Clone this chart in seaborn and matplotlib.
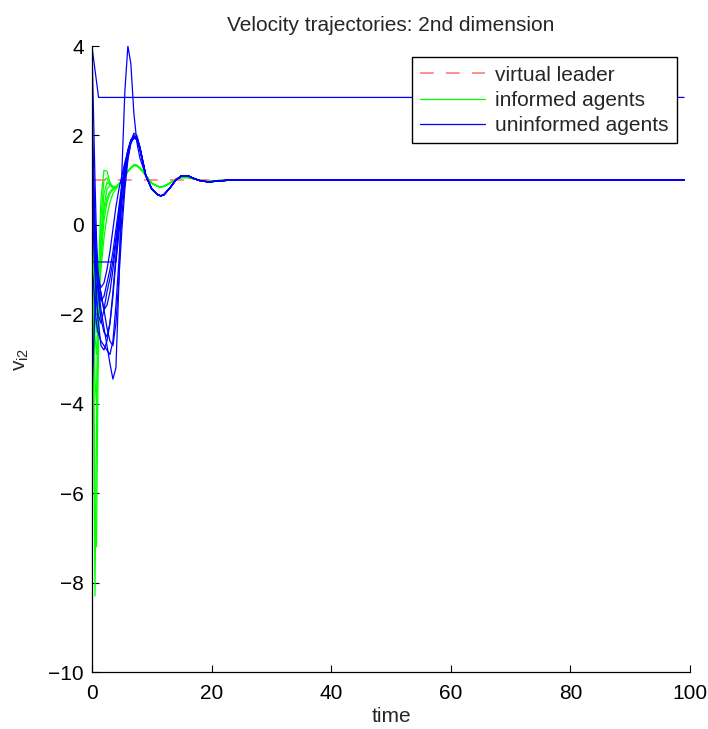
import numpy as np
import pandas as pd
import matplotlib
matplotlib.use("Agg")
import matplotlib.pyplot as plt
from matplotlib.lines import Line2D
import seaborn as sns

# ---- sampled trajectories -------------------------------------------------
# early transient (t = 0 ... 8.5), one list per agent
head_t = [0, 0.25, 0.5, 0.75, 1, 1.5, 2, 2.5, 3, 3.5,
          4, 4.5, 5, 5.5, 6, 6.5, 7, 7.5, 8, 8.5]

# common settled part (t = 9 ... 99)
tail_t = [9, 10, 11, 11.5, 12, 13, 14, 15, 16, 17, 18, 19.5, 21, 23, 25, 99]
blue_tail = [1.1, 0.8, 0.67, 0.65, 0.67, 0.82, 1.0, 1.1, 1.1, 1.04,
             0.99, 0.96, 0.98, 1.0, 1.0, 1.0]
green_tail = [1.1, 0.93, 0.86, 0.85, 0.86, 0.93, 1.02, 1.06, 1.06, 1.03,
              1.0, 0.98, 0.99, 1.0, 1.0, 1.0]

# informed agents
g1 = [1.6, -3.0, -8.3, -4.5, -1.5, 0.6, 1.22, 1.2, 0.95, 0.85, 0.85, 0.9, 1.0, 1.1, 1.2, 1.28, 1.33, 1.33, 1.27, 1.2]
g2 = [1.2, -2.5, -6.5, -7.2, -3.5, 0.2, 1.0, 1.05, 0.9, 0.82, 0.83, 0.9, 1.0, 1.1, 1.2, 1.28, 1.34, 1.33, 1.27, 1.19]
g3 = [0.8, -1.5, -3.5, -4.0, -2.5, -0.2, 0.7, 0.95, 0.9, 0.85, 0.85, 0.9, 1.0, 1.1, 1.2, 1.27, 1.33, 1.32, 1.26, 1.19]
g4 = [0.3, -1.0, -2.5, -2.9, -2.2, -0.8, 0.1, 0.5, 0.7, 0.78, 0.83, 0.9, 1.0, 1.1, 1.2, 1.28, 1.33, 1.33, 1.27, 1.2]
g5 = [-0.2, -0.8, -1.5, -2.0, -1.8, -1.0, -0.3, 0.2, 0.5, 0.7, 0.8, 0.9, 1.0, 1.1, 1.19, 1.27, 1.32, 1.32, 1.26, 1.19]
g6 = [1.5, 0.5, -1.0, -1.6, -1.4, -0.5, 0.3, 0.6, 0.75, 0.8, 0.84, 0.9, 1.0, 1.1, 1.2, 1.28, 1.33, 1.33, 1.27, 1.2]
g7 = [0.9, -0.5, -2.0, -2.4, -1.9, -0.6, 0.4, 0.8, 0.88, 0.86, 0.86, 0.92, 1.0, 1.1, 1.2, 1.28, 1.34, 1.33, 1.27, 1.2]

# uninformed agents
b1 = [2.65, 1.2, 0.0, -0.8, -1.3, -1.9, -2.3, -2.7, -3.1, -3.45, -3.2, -1.3, 1.2, 3.0, 4.0, 3.6, 2.5, 1.85, 1.5, 1.3]
b2 = [-0.83, -0.83, -0.83, -0.83, -0.83, -0.83, -0.83, -0.83, -0.83, -0.83, -0.83, -0.2, 0.5, 1.1, 1.55, 1.85, 1.97, 1.95, 1.72, 1.4]
b3 = [3.95, 2.5, 1.0, -0.3, -1.0, -1.6, -1.9, -1.8, -1.5, -1.0, -0.4, 0.2, 0.8, 1.3, 1.65, 1.88, 1.97, 1.93, 1.72, 1.42]
b4 = [2.3, 1.2, 0.0, -0.9, -1.5, -2.1, -2.4, -2.5, -2.2, -1.6, -0.8, 0.0, 0.7, 1.25, 1.65, 1.9, 2.0, 1.95, 1.73, 1.42]
b5 = [1.7, 0.6, -0.6, -1.5, -2.1, -2.7, -2.8, -2.6, -2.2, -1.5, -0.7, 0.1, 0.75, 1.3, 1.68, 1.9, 1.99, 1.94, 1.72, 1.41]
b6 = [0.5, -0.3, -1.1, -1.7, -2.0, -2.2, -1.9, -1.5, -1.2, -0.8, -0.3, 0.3, 0.85, 1.3, 1.62, 1.85, 1.95, 1.92, 1.7, 1.4]
b7 = [-0.3, -0.2, -0.5, -1.0, -1.4, -1.7, -1.6, -1.3, -1.0, -0.6, -0.1, 0.4, 0.9, 1.32, 1.62, 1.84, 1.94, 1.9, 1.69, 1.39]
b8 = [-3.8, -2.8, -1.9, -1.4, -1.3, -1.5, -1.9, -2.3, -2.6, -2.7, -2.2, -1.2, -0.1, 0.8, 1.45, 1.85, 2.05, 2.0, 1.75, 1.42]
b9 = [1.0, 0.2, -0.4, -0.9, -1.2, -1.4, -1.3, -1.0, -0.6, -0.1, 0.4, 0.8, 1.1, 1.4, 1.65, 1.85, 1.95, 1.92, 1.7, 1.4]
b10 = [-1.0, -1.3, -1.8, -2.2, -2.4, -2.6, -2.7, -2.8, -2.9, -2.6, -1.8, -0.8, 0.2, 1.0, 1.5, 1.82, 1.98, 1.96, 1.74, 1.43]

# agent that stops after the initial drop
stuck_t = [0, 1.1, 99]
stuck_v = [3.98, 2.85, 2.85]

# virtual leader reference velocity
leader_t = [0, 99]
leader_v = [1.0, 1.0]

informed = [g1, g2, g3, g4, g5, g6, g7]
uninformed = [b1, b2, b3, b4, b5, b6, b7, b8, b9, b10]

# ---- long-form table ------------------------------------------------------
rows = []
for k, head in enumerate(informed):
    for t, v in zip(head_t + tail_t, head + green_tail):
        rows.append(("informed agents", f"g{k}", t, v))
for k, head in enumerate(uninformed):
    for t, v in zip(head_t + tail_t, head + blue_tail):
        rows.append(("uninformed agents", f"b{k}", t, v))
for t, v in zip(stuck_t, stuck_v):
    rows.append(("uninformed agents", "b_stuck", t, v))
df = pd.DataFrame(rows, columns=["group", "agent", "time", "v"])
leader = pd.DataFrame({"time": leader_t, "v": leader_v})

# ---- figure ---------------------------------------------------------------
sns.set_style("white")
plt.rcParams["font.family"] = ["Liberation Sans", "DejaVu Sans"]
plt.rcParams["mathtext.default"] = "regular"

fig = plt.figure(figsize=(7.08, 7.29), dpi=100)
ax = fig.add_axes([92 / 708, 1 - 672 / 729, 598 / 708, 626 / 729])

GREEN = (0.0, 1.0, 0.0)
BLUE = (0.0, 0.0, 1.0)
RED = "#ff7070"

sns.lineplot(data=df[df.group == "informed agents"], x="time", y="v",
             units="agent", estimator=None, color=GREEN, lw=0.9,
             ax=ax, legend=False, sort=False)
sns.lineplot(data=leader, x="time", y="v", color=RED, lw=1.1,
             linestyle=(0, (9, 8)), ax=ax, legend=False)
sns.lineplot(data=df[df.group == "uninformed agents"], x="time", y="v",
             units="agent", estimator=None, color=BLUE, lw=0.9,
             ax=ax, legend=False, sort=False)

ax.set_xlim(0, 100)
ax.set_ylim(-10, 4)
ax.set_xticks([0, 20, 40, 60, 80, 100])
ax.set_yticks([-10, -8, -6, -4, -2, 0, 2, 4])
ax.set_yticklabels(["\u221210", "\u22128", "\u22126", "\u22124", "\u22122", "0", "2", "4"])

for side in ("top", "right"):
    ax.spines[side].set_visible(False)
for side in ("left", "bottom"):
    ax.spines[side].set_color("black")
    ax.spines[side].set_linewidth(0.9)
ax.tick_params(direction="in", length=5, width=0.8, colors="black",
               labelsize=15, left=True, bottom=True)
ax.tick_params(axis="x", pad=8.5)
ax.tick_params(axis="y", pad=6)

ax.set_title("Velocity trajectories: 2nd dimension", fontsize=15, pad=11)
ax.set_xlabel("time", fontsize=15, labelpad=3)
ax.set_ylabel("$v_{i2}$", fontsize=15, labelpad=12)

handles = [
    Line2D([], [], color=RED, lw=1.1, linestyle=(0, (9, 8))),
    Line2D([], [], color=GREEN, lw=0.9),
    Line2D([], [], color=BLUE, lw=0.9),
]
labels = ["virtual leader", "informed agents", "uninformed agents"]
leg = ax.legend(handles, labels, loc="upper right",
                bbox_to_anchor=(0.978, 0.982), borderaxespad=0,
                fontsize=15, frameon=True, fancybox=False,
                handlelength=3.1, handletextpad=0.5, labelspacing=0.3,
                borderpad=0.4)
leg.get_frame().set_edgecolor("black")
leg.get_frame().set_linewidth(1.0)
leg.get_frame().set_alpha(1)

fig.savefig("out.png", dpi=100)
